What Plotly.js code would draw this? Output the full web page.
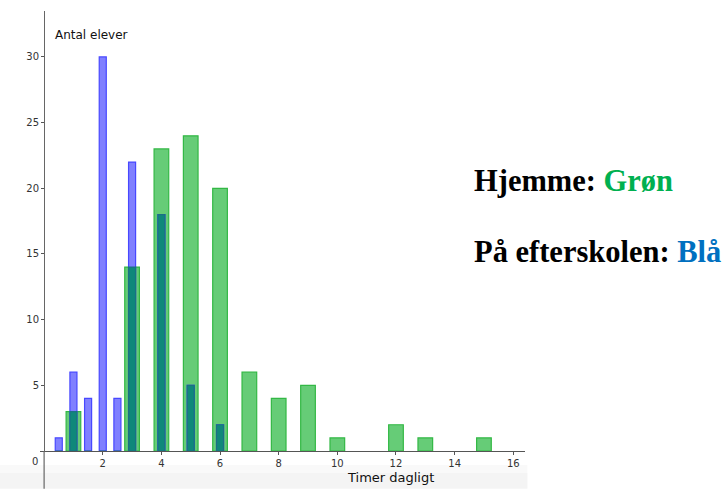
<!DOCTYPE html>
<html>
<head>
<meta charset="utf-8">
<script src="https://cdn.plot.ly/plotly-3.0.1.min.js"></script>
<style>html,body{margin:0;padding:0;background:#fff;}#chart{width:723px;height:489px;}</style>
</head>
<body>
<div id="chart"></div>
<script>
// Data
const homeHours = [1, 3, 4, 5, 6, 7, 8, 9, 10, 12, 13, 15];
const homeCounts = [3, 14, 23, 24, 20, 6, 4, 5, 1, 2, 1, 1];
const schoolHours = [0.5, 1, 1.5, 2, 2.5, 3, 4, 5, 6];
const schoolCounts = [1, 6, 4, 30, 4, 22, 18, 5, 2];
const xTickVals = [2, 4, 6, 8, 10, 12, 14, 16];
const yTickVals = [5, 10, 15, 20, 25, 30];

// overlap (where blue is drawn over green) derived from the two series
const overlapCounts = schoolHours.map((h, i) => {
  const j = homeHours.indexOf(h);
  return j >= 0 ? Math.min(schoolCounts[i], homeCounts[j]) : 0;
});

const traces = [
  {type:'bar', x: homeHours, y: homeCounts, width: 0.5,
   marker:{color:'#66cc77', line:{color:'#33b845', width:1.2}}, hoverinfo:'skip', name:'Hjemme'},
  {type:'bar', x: schoolHours, y: schoolCounts, width: 0.24,
   marker:{color:'#8080ff', line:{color:'#4848ff', width:1.2}}, hoverinfo:'skip', name:'På efterskolen'},
  {type:'bar', x: schoolHours, y: overlapCounts, width: 0.24,
   marker:{color:'#0f887a', line:{color:'#1b6f86', width:1.2}}, hoverinfo:'skip', name:'overlap'}
];

const tickFont = {family:'DejaVu Sans', size:10, color:'#333'};

const layout = {
  width: 723, height: 489,
  margin: {l:40, r:198, t:11, b:38, pad:0},
  paper_bgcolor:'#fff', plot_bgcolor:'rgba(0,0,0,0)',
  showlegend:false,
  barmode:'overlay',
  xaxis: {range:[-0.14, 16.4], tickvals: xTickVals, ticktext: xTickVals.map(String),
          ticks:'outside', ticklen:3, tickcolor:'#555', showgrid:false, zeroline:false,
          showline:true, linecolor:'#555', linewidth:1.2, tickfont: tickFont, fixedrange:true},
  yaxis: {range:[0, 33.5], tickvals: yTickVals, ticktext: yTickVals.map(String),
          anchor:'free', position: 4/485, ticks:'outside', ticklen:3, tickcolor:'#555',
          showgrid:false, zeroline:false, showline:true, linecolor:'#666', linewidth:1.2,
          tickfont: tickFont, fixedrange:true},
  shapes: [
    {type:'rect', xref:'paper', yref:'paper', x0:-0.09, x1:1.005, y0:-0.086, y1:-0.05,
     fillcolor:'#f4f4f4', line:{width:0}, layer:'below'},
    {type:'rect', xref:'paper', yref:'paper', x0:-0.09, x1:1.005, y0:-0.05, y1:-0.032,
     fillcolor:'#f9f9f9', line:{width:0}, layer:'below'},
    {type:'line', xref:'x', yref:'paper', x0:0, x1:0, y0:-0.086, y1:0,
     line:{color:'#666', width:1.2}}
  ],
  annotations: [
    {xref:'paper', yref:'paper', x:(35-40)/485, y:(451-461)/440, text:'0', showarrow:false,
     font: tickFont, xanchor:'center', yanchor:'middle'},
    {xref:'paper', yref:'paper', x:(53-40)/485, y:(451-35)/440, text:'Antal elever', showarrow:false,
     xanchor:'left', yanchor:'middle', font:{family:'DejaVu Sans', size:12, color:'#111'}},
    {xref:'paper', yref:'paper', x:(390-40)/485, y:(451-478)/440, text:'Timer dagligt', showarrow:false,
     xanchor:'center', yanchor:'middle', font:{family:'DejaVu Sans', size:13, color:'#111'}},
    {xref:'paper', yref:'paper', x:(472-40)/485, y:(451-181)/440, xanchor:'left', yanchor:'middle',
     showarrow:false, text:'<b>Hjemme: <span style="color:#00b050">Grøn</span></b>',
     font:{family:'Liberation Serif', size:30.5, color:'#000'}},
    {xref:'paper', yref:'paper', x:(472-40)/485, y:(451-252)/440, xanchor:'left', yanchor:'middle',
     showarrow:false, text:'<b>På efterskolen: <span style="color:#0070c0">Blå</span></b>',
     font:{family:'Liberation Serif', size:30.5, color:'#000'}}
  ]
};

Plotly.newPlot('chart', traces, layout, {displayModeBar:false, staticPlot:true});
</script>
</body>
</html>
